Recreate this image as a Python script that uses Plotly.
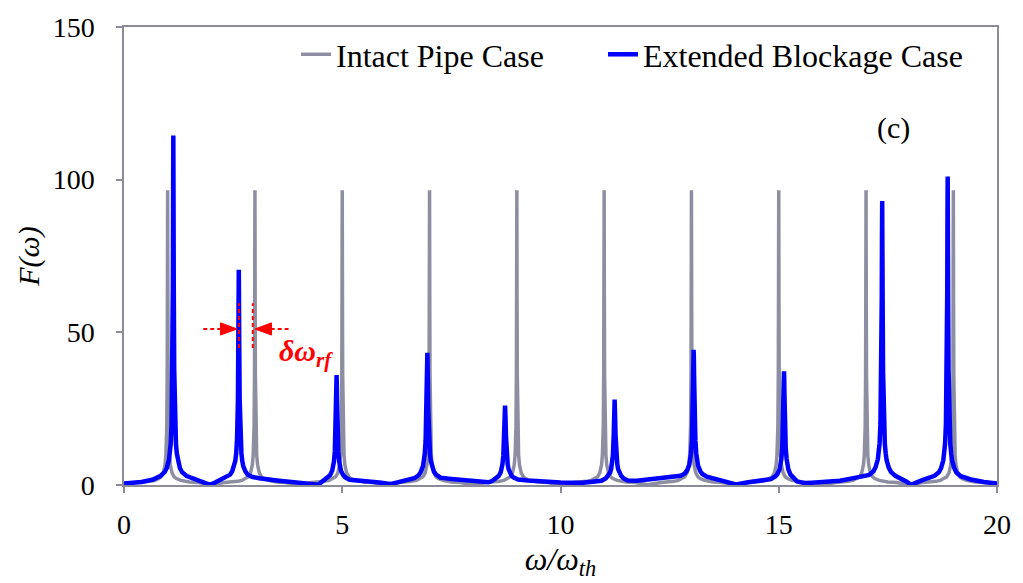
import plotly.graph_objects as go

# ---- Intact pipe case (grey): resonant peaks at odd harmonics ----
intact_x = [
    0.0,
    0.3, 0.5, 0.6, 0.7, 0.8, 0.85, 0.9, 0.92, 0.94, 0.96, 0.98, 0.99, 0.995, 1.0, 1.005, 1.01, 1.02, 1.04, 1.06, 1.08, 1.1, 1.15, 1.2, 1.3, 1.4, 1.5, 1.7,
    2.0,
    2.3, 2.5, 2.6, 2.7, 2.8, 2.85, 2.9, 2.92, 2.94, 2.96, 2.98, 2.99, 2.995, 3.0, 3.005, 3.01, 3.02, 3.04, 3.06, 3.08, 3.1, 3.15, 3.2, 3.3, 3.4, 3.5, 3.7,
    4.0,
    4.3, 4.5, 4.6, 4.7, 4.8, 4.85, 4.9, 4.92, 4.94, 4.96, 4.98, 4.99, 4.995, 5.0, 5.005, 5.01, 5.02, 5.04, 5.06, 5.08, 5.1, 5.15, 5.2, 5.3, 5.4, 5.5, 5.7,
    6.0,
    6.3, 6.5, 6.6, 6.7, 6.8, 6.85, 6.9, 6.92, 6.94, 6.96, 6.98, 6.99, 6.995, 7.0, 7.005, 7.01, 7.02, 7.04, 7.06, 7.08, 7.1, 7.15, 7.2, 7.3, 7.4, 7.5, 7.7,
    8.0,
    8.3, 8.5, 8.6, 8.7, 8.8, 8.85, 8.9, 8.92, 8.94, 8.96, 8.98, 8.99, 8.995, 9.0, 9.005, 9.01, 9.02, 9.04, 9.06, 9.08, 9.1, 9.15, 9.2, 9.3, 9.4, 9.5, 9.7,
    10.0,
    10.3, 10.5, 10.6, 10.7, 10.8, 10.85, 10.9, 10.92, 10.94, 10.96, 10.98, 10.99, 10.995, 11.0, 11.005, 11.01, 11.02, 11.04, 11.06, 11.08, 11.1, 11.15, 11.2, 11.3, 11.4, 11.5, 11.7,
    12.0,
    12.3, 12.5, 12.6, 12.7, 12.8, 12.85, 12.9, 12.92, 12.94, 12.96, 12.98, 12.99, 12.995, 13.0, 13.005, 13.01, 13.02, 13.04, 13.06, 13.08, 13.1, 13.15, 13.2, 13.3, 13.4, 13.5, 13.7,
    14.0,
    14.3, 14.5, 14.6, 14.7, 14.8, 14.85, 14.9, 14.92, 14.94, 14.96, 14.98, 14.99, 14.995, 15.0, 15.005, 15.01, 15.02, 15.04, 15.06, 15.08, 15.1, 15.15, 15.2, 15.3, 15.4, 15.5, 15.7,
    16.0,
    16.3, 16.5, 16.6, 16.7, 16.8, 16.85, 16.9, 16.92, 16.94, 16.96, 16.98, 16.99, 16.995, 17.0, 17.005, 17.01, 17.02, 17.04, 17.06, 17.08, 17.1, 17.15, 17.2, 17.3, 17.4, 17.5, 17.7,
    18.0,
    18.3, 18.5, 18.6, 18.7, 18.8, 18.85, 18.9, 18.92, 18.94, 18.96, 18.98, 18.99, 18.995, 19.0, 19.005, 19.01, 19.02, 19.04, 19.06, 19.08, 19.1, 19.15, 19.2, 19.3, 19.4, 19.5, 19.7,
    20.0,
]
intact_y = [
    0.3,
    0.8, 1.0, 1.2, 1.5, 2.1, 2.7, 4.0, 5.0, 6.6, 9.8, 19.2, 36.3, 60.8, 96.5, 60.8, 36.3, 19.2, 9.8, 6.6, 5.0, 4.0, 2.7, 2.1, 1.5, 1.2, 1.0, 0.8,
    0.1,
    0.8, 1.0, 1.2, 1.5, 2.1, 2.7, 4.0, 5.0, 6.6, 9.8, 19.2, 36.3, 60.8, 96.5, 60.8, 36.3, 19.2, 9.8, 6.6, 5.0, 4.0, 2.7, 2.1, 1.5, 1.2, 1.0, 0.8,
    0.1,
    0.8, 1.0, 1.2, 1.5, 2.1, 2.7, 4.0, 5.0, 6.6, 9.8, 19.2, 36.3, 60.8, 96.5, 60.8, 36.3, 19.2, 9.8, 6.6, 5.0, 4.0, 2.7, 2.1, 1.5, 1.2, 1.0, 0.8,
    0.1,
    0.8, 1.0, 1.2, 1.5, 2.1, 2.7, 4.0, 5.0, 6.6, 9.8, 19.2, 36.3, 60.8, 96.5, 60.8, 36.3, 19.2, 9.8, 6.6, 5.0, 4.0, 2.7, 2.1, 1.5, 1.2, 1.0, 0.8,
    0.1,
    0.8, 1.0, 1.2, 1.5, 2.1, 2.7, 4.0, 5.0, 6.6, 9.8, 19.2, 36.3, 60.8, 96.5, 60.8, 36.3, 19.2, 9.8, 6.6, 5.0, 4.0, 2.7, 2.1, 1.5, 1.2, 1.0, 0.8,
    0.1,
    0.8, 1.0, 1.2, 1.5, 2.1, 2.7, 4.0, 5.0, 6.6, 9.8, 19.2, 36.3, 60.8, 96.5, 60.8, 36.3, 19.2, 9.8, 6.6, 5.0, 4.0, 2.7, 2.1, 1.5, 1.2, 1.0, 0.8,
    0.1,
    0.8, 1.0, 1.2, 1.5, 2.1, 2.7, 4.0, 5.0, 6.6, 9.8, 19.2, 36.3, 60.8, 96.5, 60.8, 36.3, 19.2, 9.8, 6.6, 5.0, 4.0, 2.7, 2.1, 1.5, 1.2, 1.0, 0.8,
    0.1,
    0.8, 1.0, 1.2, 1.5, 2.1, 2.7, 4.0, 5.0, 6.6, 9.8, 19.2, 36.3, 60.8, 96.5, 60.8, 36.3, 19.2, 9.8, 6.6, 5.0, 4.0, 2.7, 2.1, 1.5, 1.2, 1.0, 0.8,
    0.1,
    0.8, 1.0, 1.2, 1.5, 2.1, 2.7, 4.0, 5.0, 6.6, 9.8, 19.2, 36.3, 60.8, 96.5, 60.8, 36.3, 19.2, 9.8, 6.6, 5.0, 4.0, 2.7, 2.1, 1.5, 1.2, 1.0, 0.8,
    0.1,
    0.8, 1.0, 1.2, 1.5, 2.1, 2.7, 4.0, 5.0, 6.6, 9.8, 19.2, 36.3, 60.8, 96.5, 60.8, 36.3, 19.2, 9.8, 6.6, 5.0, 4.0, 2.7, 2.1, 1.5, 1.2, 1.0, 0.8,
    0.3,
]

# ---- Extended blockage case (blue): shifted, damped peaks ----
blockage_x = [
    0.0, 0.4, 0.65,
    0.83, 0.93, 0.98, 1.03, 1.05, 1.07, 1.09, 1.11, 1.12, 1.125, 1.13, 1.135, 1.14, 1.15, 1.17, 1.19, 1.21, 1.23, 1.28, 1.33, 1.43,
    1.55, 1.7, 1.85, 1.97, 2.1, 2.2,
    2.33, 2.43, 2.48, 2.53, 2.55, 2.57, 2.59, 2.61, 2.62, 2.625, 2.63, 2.635, 2.64, 2.65, 2.67, 2.69, 2.71, 2.73, 2.78, 2.83, 2.93,
    3.1, 3.5, 4.0, 4.3, 4.45,
    4.57, 4.67, 4.72, 4.77, 4.79, 4.81, 4.83, 4.85, 4.86, 4.865, 4.87, 4.875, 4.88, 4.89, 4.91, 4.93, 4.95, 4.97, 5.02, 5.07, 5.17,
    5.54, 5.85, 6.1, 6.4,
    6.65, 6.75, 6.80, 6.85, 6.87, 6.89, 6.91, 6.93, 6.94, 6.945, 6.95, 6.955, 6.96, 6.97, 6.99, 7.01, 7.03, 7.05, 7.10, 7.15, 7.25,
    7.5, 7.8, 8.1, 8.35,
    8.43, 8.53, 8.58, 8.63, 8.65, 8.67, 8.69, 8.71, 8.72, 8.725, 8.73, 8.735, 8.74, 8.75, 8.77, 8.79, 8.81, 8.83, 8.88, 8.93, 9.03,
    9.25, 9.5, 10.0, 10.5, 10.75,
    10.94, 11.04, 11.09, 11.14, 11.16, 11.18, 11.20, 11.22, 11.23, 11.235, 11.24, 11.245, 11.25, 11.26, 11.28, 11.30, 11.32, 11.34, 11.39, 11.44, 11.54,
    11.75, 12.2, 12.5,
    12.75, 12.85, 12.90, 12.95, 12.97, 12.99, 13.01, 13.03, 13.04, 13.045, 13.05, 13.055, 13.06, 13.07, 13.09, 13.11, 13.13, 13.15, 13.20, 13.25, 13.35,
    13.6, 13.85, 14.02, 14.3, 14.6,
    14.82, 14.92, 14.97, 15.02, 15.04, 15.06, 15.08, 15.10, 15.11, 15.115, 15.12, 15.125, 15.13, 15.14, 15.16, 15.18, 15.20, 15.22, 15.27, 15.32, 15.42,
    15.6, 16.0, 16.4, 16.8,
    17.07, 17.17, 17.22, 17.27, 17.29, 17.31, 17.33, 17.35, 17.36, 17.365, 17.37, 17.375, 17.38, 17.39, 17.41, 17.43, 17.45, 17.47, 17.52, 17.57, 17.67,
    17.8, 17.93, 18.03, 18.15, 18.3, 18.45,
    18.57, 18.67, 18.72, 18.77, 18.79, 18.81, 18.83, 18.85, 18.86, 18.865, 18.87, 18.875, 18.88, 18.89, 18.91, 18.93, 18.95, 18.97, 19.02, 19.07, 19.17,
    19.4, 19.7, 20.0,
]
blockage_y = [
    0.5, 1.0, 1.7,
    2.9, 4.2, 5.6, 8.2, 10.3, 13.5, 20.0, 38.1, 65.8, 93.2, 114.5, 93.2, 65.8, 38.1, 20.0, 13.5, 10.3, 8.2, 5.6, 4.2, 3.0,
    2.3, 1.5, 0.8, 0.05, 0.9, 1.7,
    2.6, 3.4, 4.5, 6.3, 7.9, 10.3, 15.0, 27.9, 46.0, 61.0, 70.5, 61.0, 46.0, 27.9, 15.0, 10.3, 7.9, 6.3, 4.5, 3.4, 2.7,
    2.2, 1.5, 0.8, 0.4, 0.1,
    1.5, 2.4, 3.2, 4.7, 5.9, 7.7, 11.0, 19.4, 28.4, 33.6, 36.0, 33.6, 28.4, 19.4, 11.0, 7.7, 5.9, 4.7, 3.3, 2.5, 1.7,
    1.3, 0.8, 0.3, 1.3,
    2.2, 3.2, 4.3, 6.2, 7.8, 10.2, 14.6, 25.0, 35.4, 41.0, 43.3, 41.0, 35.4, 25.0, 14.6, 10.2, 7.8, 6.3, 4.4, 3.4, 2.4,
    2.0, 1.6, 1.2, 0.9,
    1.3, 2.2, 2.9, 4.1, 5.1, 6.8, 9.6, 16.2, 22.0, 24.8, 26.0, 24.8, 22.0, 16.2, 9.6, 6.8, 5.2, 4.2, 3.0, 2.4, 1.8,
    1.5, 1.2, 0.8, 0.7, 0.9,
    1.4, 2.2, 3.0, 4.2, 5.2, 6.9, 9.7, 16.6, 23.1, 26.5, 28.0, 26.5, 23.1, 16.6, 9.7, 6.9, 5.2, 4.2, 3.0, 2.2, 1.5,
    1.4, 2.0, 2.4,
    3.0, 3.8, 4.8, 6.6, 8.0, 10.4, 14.6, 25.2, 36.0, 41.8, 44.3, 41.8, 36.0, 25.2, 14.6, 10.4, 7.9, 6.4, 4.6, 3.6, 2.7,
    1.8, 0.9, 0.2, 0.9, 1.4,
    1.9, 2.8, 3.6, 5.2, 6.4, 8.5, 12.0, 20.9, 30.1, 35.1, 37.2, 35.1, 30.1, 20.9, 12.0, 8.5, 6.3, 5.1, 3.4, 2.5, 1.2,
    0.6, 0.9, 1.4, 2.5,
    3.3, 4.5, 5.9, 8.4, 10.5, 13.6, 20.0, 37.1, 61.0, 80.6, 93.0, 80.6, 61.0, 37.1, 20.0, 13.5, 10.4, 8.2, 5.7, 4.3, 3.0,
    2.2, 1.1, 0.05, 0.9, 1.7, 2.4,
    3.0, 4.2, 5.6, 8.1, 10.3, 13.5, 20.0, 37.5, 63.0, 85.6, 101.0, 85.6, 63.0, 37.5, 20.0, 13.5, 10.3, 8.1, 5.6, 4.1, 2.9,
    1.8, 1.0, 0.5,
]

x_ticks = [0, 5, 10, 15, 20]
y_ticks = [0, 50, 100, 150]

AXIS_GREY = "#8C8C98"
FONT = "Times New Roman, Liberation Serif, serif"
RED = "#FF0000"

fig = go.Figure()
fig.add_trace(go.Scatter(
    x=intact_x, y=intact_y, mode="lines", name="Intact Pipe Case",
    line=dict(color="#8E8EA2", width=3.5), legendwidth=262,
))
fig.add_trace(go.Scatter(
    x=blockage_x, y=blockage_y, mode="lines", name="Extended Blockage Case",
    line=dict(color="#0000FF", width=4.5), legendwidth=340,
))

# delta omega_rf annotation: dashed guides, dashed shafts and triangular heads
dash = "4px,3px"
fig.add_shape(type="line", x0=2.633, x1=2.633, y0=44.9, y1=59.5,
              line=dict(color=RED, width=2, dash=dash))
fig.add_shape(type="line", x0=2.95, x1=2.95, y0=44.9, y1=59.5,
              line=dict(color=RED, width=2, dash=dash))
fig.add_shape(type="line", x0=1.816, x1=2.23, y0=51.1, y1=51.1,
              line=dict(color=RED, width=2, dash=dash))
fig.add_shape(type="line", x0=3.36, x1=3.77, y0=51.1, y1=51.1,
              line=dict(color=RED, width=2, dash=dash))
fig.add_shape(type="path", path="M 2.21 53.1 L 2.59 51.1 L 2.21 49.1 Z",
              fillcolor=RED, line=dict(color=RED, width=1))
fig.add_shape(type="path", path="M 3.38 53.1 L 3.0 51.1 L 3.38 49.1 Z",
              fillcolor=RED, line=dict(color=RED, width=1))
fig.add_annotation(x=3.5, y=43.3, xanchor="left", yanchor="middle",
                   text="<b><i>δω<sub>rf</sub></i></b>", showarrow=False,
                   font=dict(family=FONT, size=30, color=RED))

fig.add_annotation(x=0.882, y=0.780, xref="paper", yref="paper",
                   xanchor="center", yanchor="middle",
                   text="(c)", showarrow=False,
                   font=dict(family=FONT, size=30, color="black"))

fig.update_layout(
    width=1023, height=583,
    margin=dict(l=124, r=18, t=22, b=97),
    paper_bgcolor="white", plot_bgcolor="white",
    font=dict(family=FONT, size=28, color="black"),
    showlegend=True,
    legend=dict(
        orientation="h", x=0.197, y=0.940, xanchor="left", yanchor="middle",
        bgcolor="rgba(0,0,0,0)", font=dict(family=FONT, size=32),
        entrywidthmode="pixels", tracegroupgap=0,
    ),
)
fig.update_xaxes(
    range=[0, 20], tickvals=x_ticks, ticks="outside", ticklen=6, tickwidth=1.5,
    tickcolor=AXIS_GREY, showline=True, linecolor=AXIS_GREY, linewidth=1.5,
    mirror=True, showgrid=False, zeroline=False,
    tickfont=dict(family=FONT, size=28), ticklabelstandoff=8,
    title=dict(text="<i>ω/ω<sub>th</sub></i>", font=dict(family=FONT, size=32), standoff=8),
)
fig.update_yaxes(
    range=[0, 150], tickvals=y_ticks, ticks="outside", ticklen=6, tickwidth=1.5,
    tickcolor=AXIS_GREY, showline=True, linecolor=AXIS_GREY, linewidth=1.5,
    mirror=True, showgrid=False, zeroline=False,
    tickfont=dict(family=FONT, size=28), ticklabelstandoff=16,
    title=dict(text="<i>F(ω)</i>", font=dict(family=FONT, size=30), standoff=4),
)

fig.write_html("out.html")
